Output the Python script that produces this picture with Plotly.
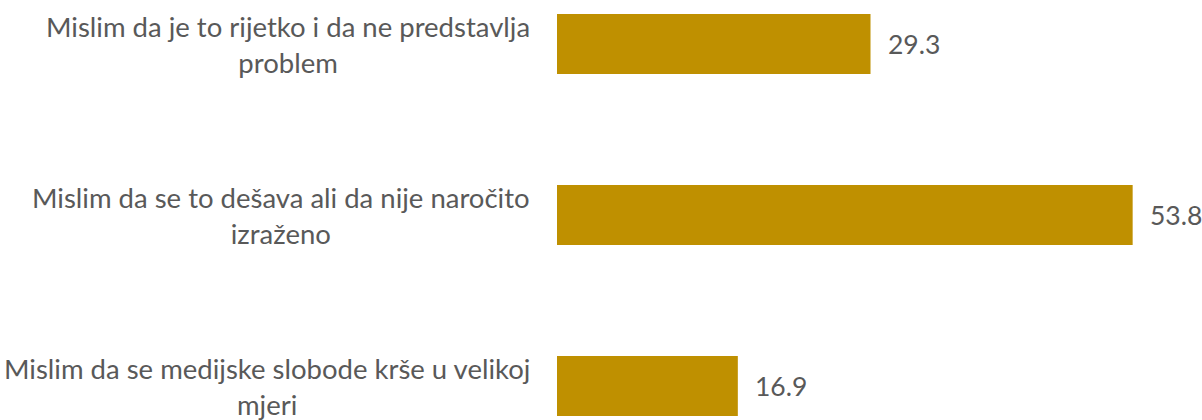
import plotly.graph_objects as go

categories = [
    "Mislim da je to rijetko i da ne predstavlja<br>problem",
    "Mislim da se to dešava ali da nije naročito<br>izraženo",
    "Mislim da se medijske slobode krše u velikoj<br>mjeri",
]
values = [29.3, 53.8, 16.9]
value_labels = ["29.3", "53.8", "16.9"]

BAR_COLOR = "#BF9000"
TEXT_COLOR = "#595959"
FONT = "Lato"

W, H = 1202, 420
LEFT = 557
px_per_unit = 10.7
xmax = (W - LEFT) / px_per_unit

band = 171.0
top_center = 44.0
y_top = -top_center / band
y_bottom = (len(categories) - 1) + (H - (top_center + band * (len(categories) - 1))) / band

ypos = list(range(len(categories)))

fig = go.Figure(
    go.Bar(
        x=values,
        y=ypos,
        orientation="h",
        marker=dict(color=BAR_COLOR, line=dict(width=0)),
        width=60 / band,
        hoverinfo="skip",
    )
)

annotations = []
for i, (cat, v, lab) in enumerate(zip(categories, values, value_labels)):
    annotations.append(dict(
        x=0, y=i, xref="x", yref="y", text=cat, showarrow=False,
        xanchor="right", yanchor="middle", align="center", xshift=-25,
        font=dict(family=FONT, size=27.5, color=TEXT_COLOR),
    ))
    annotations.append(dict(
        x=v, y=i, xref="x", yref="y", text=lab, showarrow=False,
        xanchor="left", yanchor="middle", xshift=15,
        font=dict(family=FONT, size=26.5, color=TEXT_COLOR),
    ))

fig.update_layout(
    width=W, height=H,
    margin=dict(l=LEFT, r=0, t=0, b=0),
    paper_bgcolor="white", plot_bgcolor="white",
    showlegend=False,
    xaxis=dict(range=[0, xmax], visible=False, fixedrange=True),
    yaxis=dict(range=[y_bottom, y_top], visible=False, fixedrange=True),
    annotations=annotations,
)

fig.write_html(
    "out.html",
    config={"displayModeBar": False},
    post_script="document.body.style.margin='0px';document.body.style.overflow='hidden';",
)
